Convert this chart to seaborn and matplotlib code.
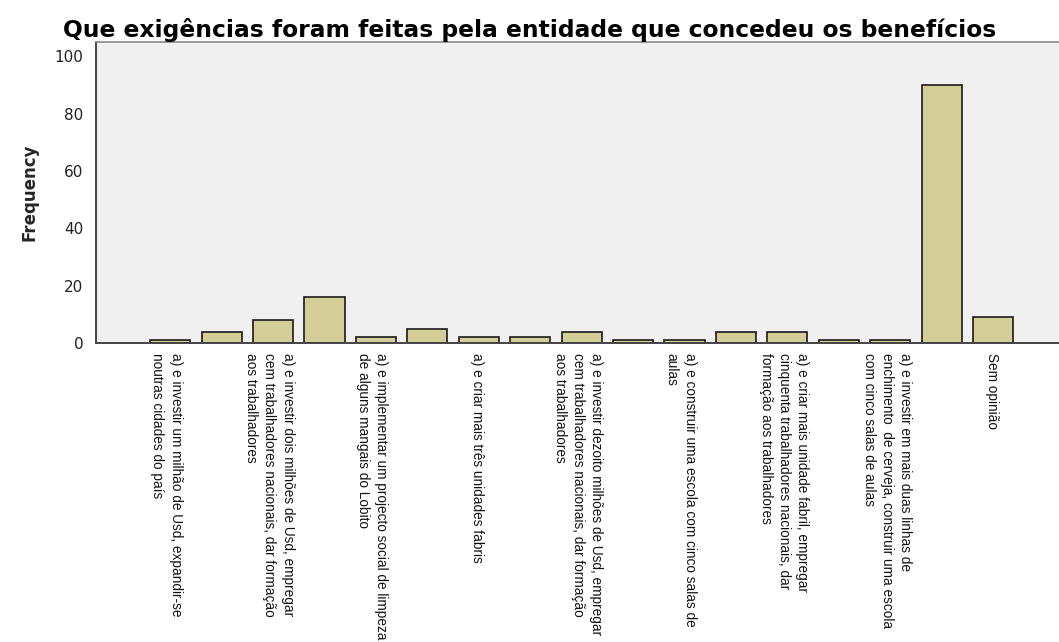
import matplotlib
matplotlib.use("Agg")
import matplotlib.pyplot as plt
import seaborn as sns
import pandas as pd

# categories in the order SPSS draws them; only every other label is printed
labels = [
    "a) e investir um milhão de Usd, expandir-se\nnoutras cidades do país",
    "",
    "a) e investir dois milhões de Usd, empregar\ncem trabalhadores nacionais, dar formação\naos trabalhadores",
    "",
    "a) e implementar um projecto social de limpeza\nde alguns mangais do Lobito",
    "",
    "a) e criar mais três unidades fabris",
    "",
    "a) e investir dezoito milhões de Usd, empregar\ncem trabalhadores nacionais, dar formação\naos trabalhadores",
    "",
    "a) e construir uma escola com cinco salas de\naulas",
    "",
    "a) e criar mais unidade fabril, empregar\ncinquenta trabalhadores nacionais, dar\nformação aos trabalhadores",
    "",
    "a) e investir em mais duas linhas de\nenchimento  de cerveja, construir uma escola\ncom cinco salas de aulas",
    "",
    "Sem opinião",
]
frequency = [1, 4, 8, 16, 2, 5, 2, 2, 4, 1, 1, 4, 4, 1, 1, 90, 9]
y_ticks = [0, 20, 40, 60, 80, 100]

df = pd.DataFrame({"pos": list(range(len(frequency))), "freq": frequency})

sns.set_style("white")
plt.rcParams["font.family"] = ["DejaVu Sans"]

fig = plt.figure(figsize=(10.59, 6.42), dpi=100)
ax = fig.add_axes([0.0907, 0.4657, 0.9093, 0.4689])
ax.set_facecolor("#f0f0f0")

sns.barplot(data=df, x="pos", y="freq", color="#d3ce97", saturation=1,
            edgecolor="#1a1a1a", linewidth=1.2, width=0.78, ax=ax)

ax.set_xlim(-1.44, 17.28)
ax.set_ylim(0, 105)
ax.set_yticks(y_ticks)
ax.tick_params(axis="y", length=7, width=1, color="#444444", labelsize=11,
               labelcolor="#222222", pad=2)

shown = [i for i, t in enumerate(labels) if t]
ax.set_xticks(shown)
ax.set_xticklabels([labels[i] for i in shown], rotation=-90,
                   rotation_mode="anchor", ha="left", va="center_baseline",
                   fontsize=9.8, linespacing=1.38, color="#111111",
                   family=["Liberation Sans", "DejaVu Sans"])
ax.tick_params(axis="x", length=6, width=1, color="#222222", pad=1)

for side in ["left", "bottom"]:
    ax.spines[side].set_color("#444444")
    ax.spines[side].set_linewidth(1.4)
ax.spines["top"].set_color("#888888")
ax.spines["top"].set_linewidth(1.2)
ax.spines["right"].set_visible(False)

ax.set_xlabel("")
ax.set_ylabel("Frequency", fontsize=12, fontweight="bold", labelpad=12)

fig.text(0.5, 0.954, "Que exigências foram feitas pela entidade que concedeu os benefícios",
         ha="center", va="center", fontsize=16.8, fontweight="bold", color="black")

fig.savefig("out.png", dpi=100)
